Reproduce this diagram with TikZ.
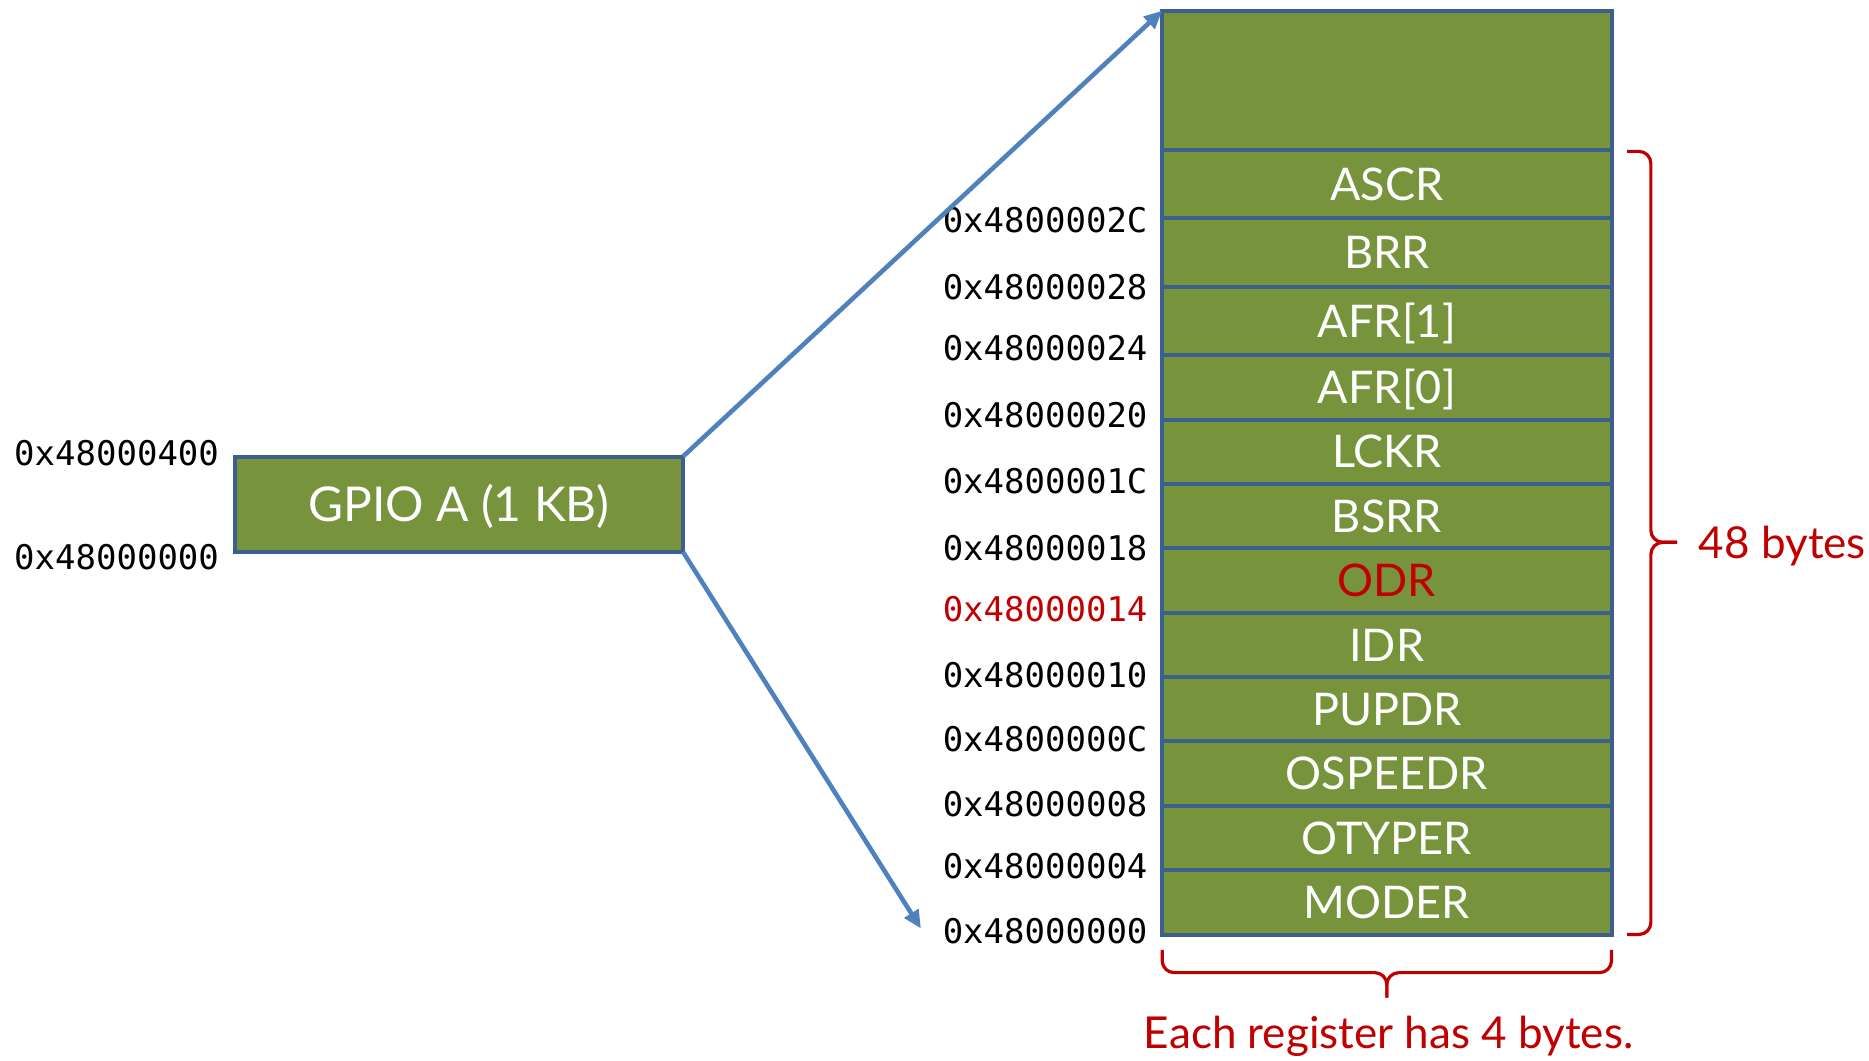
\documentclass[tikz,border=0pt]{standalone}
\usepackage{fontspec}
\setmainfont{Lato}
\newfontfamily\addrfont{DejaVu Sans Mono}
\usetikzlibrary{arrows.meta,calc}
\definecolor{regfill}{HTML}{77933C}
\definecolor{regedge}{HTML}{3D5F8E}
\definecolor{linkblue}{HTML}{4F81BD}
\definecolor{notered}{HTML}{C00000}
\def\u{0.596pt}

\begin{document}
\begin{tikzpicture}[x=\u, y=-\u,
  reg/.style={draw=regedge, line width=2pt, fill=regfill, inner sep=0pt, outer sep=0pt,
    minimum width={377*\u}, text=white, font=\fontsize{22.5}{27}\selectfont,
    text height=16.2pt, text depth=0pt},
  addr/.style={anchor=east, inner sep=0pt, font=\addrfont\fontsize{17}{20}\selectfont,
    text height=12.4pt, text depth=0pt},
  link/.style={draw=linkblue, line width=2.3pt, -{Triangle[length=9pt,width=8pt]}},
  bracepath/.style={draw=notered, line width=1.6pt, rounded corners=6pt},
  note/.style={text=notered, inner sep=0pt, font=\fontsize{22}{26}\selectfont,
    text height=15.8pt, text depth=0pt}]
\useasboundingbox (0,0) rectangle (1568,890);

% register stack, top block is the unused remainder of the 1 KB window
\node[reg, minimum height={117*\u}] (blank) at (1163.5,67.5) {};
\node[reg, minimum height={57*\u}] (ascr)  at (1163.5,154.5) {ASCR};
\node[reg, minimum height={58*\u}] (brr)   at (1163.5,212) {BRR};
\node[reg, minimum height={57*\u}] (afr1)  at (1163.5,269.5) {AFR[1]};
\node[reg, minimum height={54*\u}] (afr0)  at (1163.5,325) {AFR[0]};
\node[reg, minimum height={54*\u}] (lckr)  at (1163.5,379) {LCKR};
\node[reg, minimum height={54*\u}] (bsrr)  at (1163.5,433) {BSRR};
\node[reg, minimum height={54*\u}, text=notered] (odr) at (1163.5,487) {ODR};
\node[reg, minimum height={54*\u}] (idr)   at (1163.5,541) {IDR};
\node[reg, minimum height={54*\u}] (pupdr) at (1163.5,595) {PUPDR};
\node[reg, minimum height={54*\u}] (ospeedr) at (1163.5,649) {OSPEEDR};
\node[reg, minimum height={54*\u}] (otyper) at (1163.5,703) {OTYPER};
\node[reg, minimum height={54*\u}] (moder) at (1163.5,757) {MODER};

% register addresses
\node[addr] (a2c) at (963,185) {0x4800002C};
\node[addr] (a28) at (963,241) {0x48000028};
\node[addr] (a24) at (963,292) {0x48000024};
\node[addr] (a20) at (963,348) {0x48000020};
\node[addr] (a1c) at (963,404) {0x4800001C};
\node[addr] (a18) at (963,460) {0x48000018};
\node[addr, text=notered] (a14) at (963,511) {0x48000014};
\node[addr] (a10) at (963,566) {0x48000010};
\node[addr] (a0c) at (963,620) {0x4800000C};
\node[addr] (a08) at (963,675) {0x48000008};
\node[addr] (a04) at (963,727) {0x48000004};
\node[addr] (a00) at (963,781) {0x48000000};

% GPIO A block
\node[reg, minimum width={376*\u}, minimum height={80*\u}, font=\fontsize{24}{29}\selectfont,
  text height=17.3pt] (gpio) at (385,423) {GPIO A (1 KB)};
\node[addr] (gtop) at (184,380) {0x48000400};
\node[addr] (gbot) at (184,467) {0x48000000};

% zoom arrows
\coordinate (lowtip) at ($(a00.west)+(-18,-2)$);
\draw[link] (gpio.north east) -- (blank.north west);
\draw[link] (gpio.south east) -- (lowtip);

% size braces
\draw[bracepath] ($(ascr.north east)+(13,1)$) -- ($(ascr.north east)+(33,1)$) -- (1385,455) -- (1407,455);
\draw[bracepath] (1407,455) -- (1385,455) -- ($(moder.south east)+(33,0)$) -- ($(moder.south east)+(13,0)$);
\node[note, anchor=west] (b48) at (1425,455) {48 bytes};

\draw[bracepath] ($(moder.south west)+(0,13)$) -- ($(moder.south west)+(0,32)$) -- (1163.5,816) -- (1163.5,837);
\draw[bracepath] ($(moder.south east)+(0,13)$) -- ($(moder.south east)+(0,32)$) -- (1163.5,816) -- (1163.5,837);
\node[note] (each) at (1165,866) {Each register has 4 bytes.};
\end{tikzpicture}
\end{document}
